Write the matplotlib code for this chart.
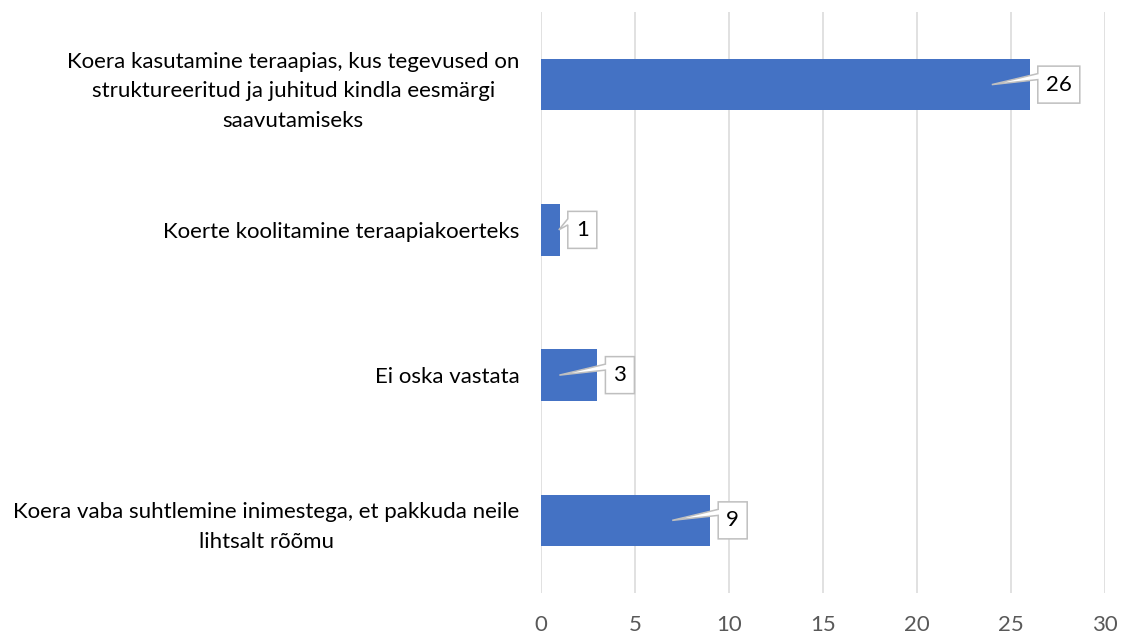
import matplotlib
matplotlib.use('Agg')
import matplotlib.pyplot as plt
from matplotlib.patches import Polygon

plt.rcParams['font.family'] = ['Lato', 'DejaVu Sans']

categories = [
    'Koera kasutamine teraapias, kus tegevused on\nstruktureeritud ja juhitud kindla eesmärgi\nsaavutamiseks',
    'Koerte koolitamine teraapiakoerteks',
    'Ei oska vastata',
    'Koera vaba suhtlemine inimestega, et pakkuda neile\nlihtsalt rõõmu',
]
values = [26, 1, 3, 9]
x_ticks = [0, 5, 10, 15, 20, 25, 30]

BAR_COLOR = '#4472C4'
GRID_COLOR = '#D9D9D9'
FS = 16


def draw_callout(ax, value, ypos, text):
    # callout box with a wedge pointing into the bar (offsets in pixels)
    ex, ey = ax.transData.transform((value, ypos))
    bar_px = ex - ax.transData.transform((0, ypos))[0]
    tip_x = ex - 38 if bar_px > 40 else ex - 1
    w = 16 + 13 * len(text)
    h = 37
    left = ex + 8
    verts_px = [
        (left, ey + h / 2),
        (left + w, ey + h / 2),
        (left + w, ey - h / 2),
        (left, ey - h / 2),
        (left, ey + 5),
        (tip_x, ey),
        (left, ey + 11),
    ]
    verts = ax.transData.inverted().transform(verts_px)
    ax.add_patch(Polygon(verts, closed=True, facecolor='white', edgecolor='#BFBFBF',
                         linewidth=1.1, zorder=4, clip_on=False))
    cx, cy = ax.transData.inverted().transform((left + w / 2, ey))
    ax.text(cx, cy, text, ha='center', va='center', fontsize=FS, color='black', zorder=5)


fig = plt.figure(figsize=(11.21, 6.35), dpi=100)
ax = fig.add_axes([541 / 1121, 1 - 593 / 635, (1105 - 541) / 1121, (593 - 12) / 635])

ypos = list(range(len(categories)))
ax.barh(ypos, values, height=0.353, color=BAR_COLOR, zorder=3)

ax.set_xlim(0, 30)
ax.set_ylim(len(categories) - 0.5, -0.5)
ax.set_xticks(x_ticks)
ax.set_yticks(ypos)
ax.set_yticklabels(categories)
for lbl in ax.get_yticklabels():
    lbl.set_multialignment('center')
    lbl.set_linespacing(1.58)

ax.grid(axis='x', color=GRID_COLOR, linewidth=1.1, zorder=0)
ax.set_axisbelow(True)
for s in ax.spines.values():
    s.set_visible(False)
ax.tick_params(axis='x', length=0, pad=16, labelsize=FS, labelcolor='#595959')
ax.tick_params(axis='y', length=0, pad=15.5, labelsize=FS, labelcolor='black')

for i, v in enumerate(values):
    draw_callout(ax, v, i, str(v))

fig.savefig('out.png', dpi=100, facecolor='white')
